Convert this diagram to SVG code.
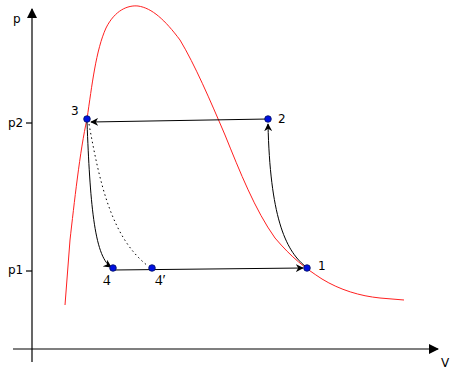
<svg xmlns="http://www.w3.org/2000/svg" width="460" height="376" viewBox="0 0 460 376">
<defs>
<marker id="ah" viewBox="0 0 10 10" refX="9" refY="5" markerWidth="8" markerHeight="8" markerUnits="userSpaceOnUse" orient="auto"><path d="M0,0 L10,5 L0,10 L3,5 z" fill="#000"/></marker>
<marker id="ax" viewBox="0 0 10 10" refX="9" refY="5" markerWidth="10" markerHeight="10" markerUnits="userSpaceOnUse" orient="auto"><path d="M0,0 L10,5 L0,10 z" fill="#000"/></marker>
</defs>
<style>
.ax{stroke:#000;stroke-width:1.2;fill:none}
.c{stroke:#000;stroke-width:1;fill:none}
.pt{fill:#0010e0;stroke:#001060;stroke-width:0.8}
.t{font-family:"DejaVu Sans",sans-serif;font-size:12px;fill:#000}
.s{font-family:"Liberation Serif",serif;font-size:15px;fill:#000}
</style>
<rect width="460" height="376" fill="#fff"/>
<g id="axes">
<line class="ax" x1="32" y1="362" x2="32" y2="9" marker-end="url(#ax)"/>
<line class="ax" x1="13" y1="349" x2="438" y2="349" marker-end="url(#ax)"/>
<line class="ax" x1="26" y1="123" x2="32" y2="123"/>
<line class="ax" x1="26" y1="271" x2="32" y2="271"/>
<text class="t" x="13" y="23" font-size="14">p</text>
<text class="t" x="441" y="367" font-size="14">V</text>
<text class="t" x="8" y="127" font-size="10">p2</text>
<text class="t" x="8" y="274" font-size="10">p1</text>
</g>
<g id="saturation-curve">
<path d="M65,305 L70,240 C74,205 80,150 87,119 C92,85 96,50 106,28 C115,10 128,5 138,6 C152,8 165,20 180,40 C195,65 210,100 225,135 C240,172 255,210 275,238 C292,258 305,268 322,279 C340,290 360,296 380,298 L404,300" fill="none" stroke="#ff2020" stroke-width="1"/>
</g>
<g id="connectors">
<path class="c" d="M268,119 L91,122" marker-end="url(#ah)"/>
<path class="c" d="M305,266 C285,250 270,215 268,124" marker-end="url(#ah)"/>
<path class="c" d="M87,122 C90,200 94,256 111,267" marker-end="url(#ah)"/>
<path class="c" d="M89,124 C100,185 112,238 148,266" stroke-dasharray="1.5,3"/>
<path class="c" d="M113,270 L303,268" marker-end="url(#ah)"/>
</g>
<g id="node-3"><circle class="pt" cx="87" cy="119" r="3.3"/><text class="t" x="71" y="115" font-size="12">3</text></g>
<g id="node-2"><circle class="pt" cx="268" cy="119" r="3.3"/><text class="t" x="278" y="123" font-size="14">2</text></g>
<g id="node-1"><circle class="pt" cx="307" cy="268" r="3.3"/><text class="t" x="318" y="270" font-size="13">1</text></g>
<g id="node-4"><circle class="pt" cx="113" cy="268" r="3.3"/><text class="s" x="103" y="285">4</text></g>
<g id="node-4p"><circle class="pt" cx="152" cy="268" r="3.3"/><text class="s" x="155" y="285">4′</text></g>
</svg>
